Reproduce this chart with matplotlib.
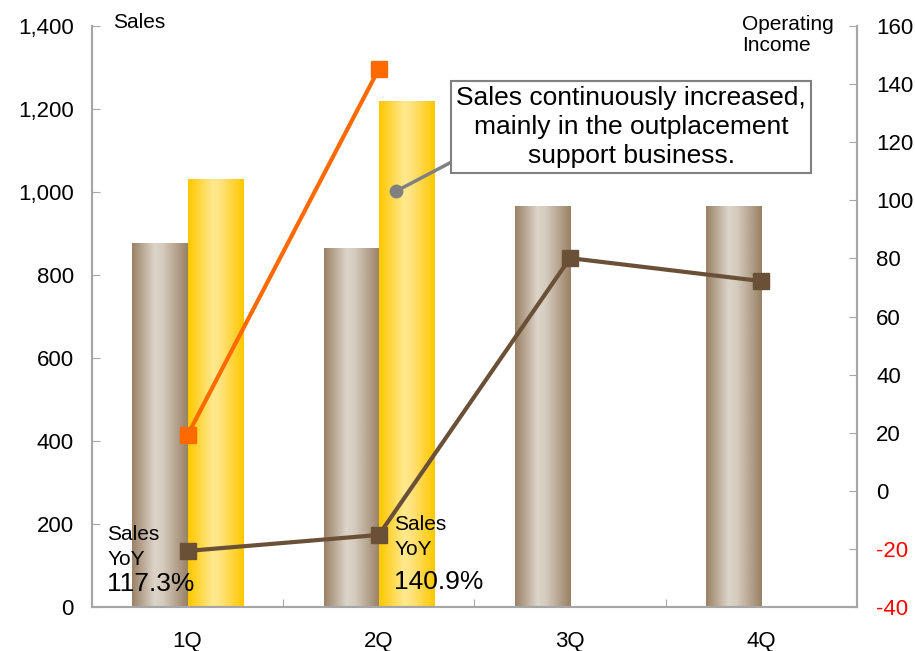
import numpy as np
import matplotlib.pyplot as plt
from matplotlib.colors import LinearSegmentedColormap

plt.rcParams['font.family'] = ['Liberation Sans', 'DejaVu Sans']
plt.rcParams['axes.unicode_minus'] = False

# data
quarters = ['1Q', '2Q', '3Q', '4Q']
sales_prev = [877, 865, 964, 964]
sales_cur = [1029, 1217]
oi_prev = [-20.7, -15.2, 80.1, 72.2]
oi_cur = [19.2, 145.2]
left_ticks = [0, 200, 400, 600, 800, 1000, 1200, 1400]
right_ticks = [-40, -20, 0, 20, 40, 60, 80, 100, 120, 140, 160]

fig = plt.figure(figsize=(9.15, 6.51), dpi=100)
ax = fig.add_axes([0.1005, 0.0676, 0.836, 0.8924])
ax2 = ax.twinx()

grey = '#A6A6A6'
x = np.arange(len(quarters)) + 0.5
w = 0.288

brown_cmap = LinearSegmentedColormap.from_list('br', [(0, '#9A8266'), (0.4, '#DDD4CA'), (0.55, '#D6CCBF'), (1, '#9A8266')])
gold_cmap = LinearSegmentedColormap.from_list('gd', [(0, '#FFC800'), (0.45, '#FFE98F'), (0.6, '#FFE27A'), (1, '#FFC800')])
grad = np.linspace(0, 1, 64).reshape(1, -1)

def gradient_bars(xs, hs, cmap):
    bars = ax.bar(xs, hs, width=w, color='none', edgecolor='none', zorder=2)
    for b in bars:
        x0, bw, h = b.get_x(), b.get_width(), b.get_height()
        ax.imshow(grad, cmap=cmap, aspect='auto', extent=(x0, x0 + bw, 0, h),
                  interpolation='bicubic', zorder=2)

gradient_bars(x - w / 2, sales_prev, brown_cmap)
gradient_bars(x[:len(sales_cur)] + w / 2, sales_cur, gold_cmap)

ax.set_xlim(0, 4)
ax.set_ylim(0, 1400)
ax.set_yticks(left_ticks)
ax.set_yticklabels(['{:,}'.format(v) for v in left_ticks])
ax.set_xticks([1, 2, 3], minor=False)
ax.set_xticklabels([])
ax.set_xticks(x, minor=True)
ax.set_xticklabels(quarters, minor=True)
ax.tick_params(axis='x', which='minor', length=0, pad=17, labelsize=16)
ax.tick_params(axis='x', which='major', direction='in', length=6, color=grey)
ax.tick_params(axis='y', direction='in', length=6, color=grey, labelsize=16, pad=13)

ax2.plot(x, oi_prev, color='#6B5038', lw=3, marker='s', ms=11.5, zorder=3)
ax2.plot(x[:len(oi_cur)], oi_cur, color='#FF6A00', lw=3, marker='s', ms=11.5, zorder=3)
ax2.set_ylim(-40, 160)
ax2.set_yticks(right_ticks)
ax2.tick_params(axis='y', direction='in', length=6, color=grey, labelsize=16, pad=14)
for lbl, v in zip(ax2.get_yticklabels(), right_ticks):
    if v < 0:
        lbl.set_color('#FF0000')

for a in (ax, ax2):
    a.spines['top'].set_visible(False)
    for s in ('left', 'right', 'bottom'):
        a.spines[s].set_color(grey)
        a.spines[s].set_linewidth(1.5)

ax.set_zorder(1)
ax2.set_zorder(2)
ax2.patch.set_visible(False)

fig.text(113 / 915, 1 - 22 / 651, 'Sales', fontsize=15, ha='left', va='center')
fig.text(742 / 915, 1 - 35 / 651, 'Operating\nIncome', fontsize=15, ha='left', va='center', linespacing=1.15)

ax.text(0.08, 198, 'Sales\nYoY', fontsize=15, ha='left', va='top', linespacing=1.4)
ax.text(0.08, 55, '117.3%', fontsize=19, ha='left', va='center')
ax.text(1.58, 222, 'Sales\nYoY', fontsize=15, ha='left', va='top', linespacing=1.4)
ax.text(1.58, 60, '140.9%', fontsize=19, ha='left', va='center')

# callout
ax.annotate('Sales continuously increased,\nmainly in the outplacement\nsupport business.',
            xy=(1.59, 1002), xytext=(631 / 915, 1 - 127 / 651), textcoords='figure fraction',
            fontsize=19, ha='center', va='center', linespacing=1.25, zorder=6,
            bbox=dict(boxstyle='square,pad=0.2', fc='white', ec='#808080', lw=1.5),
            arrowprops=dict(arrowstyle='-', color='#808080', lw=2.5, shrinkA=0, shrinkB=0,
                            relpos=(0, 0.1)))
ax.plot([1.59], [1002], 'o', color='#808080', ms=9, zorder=6)

fig.savefig('out.png', dpi=100)
